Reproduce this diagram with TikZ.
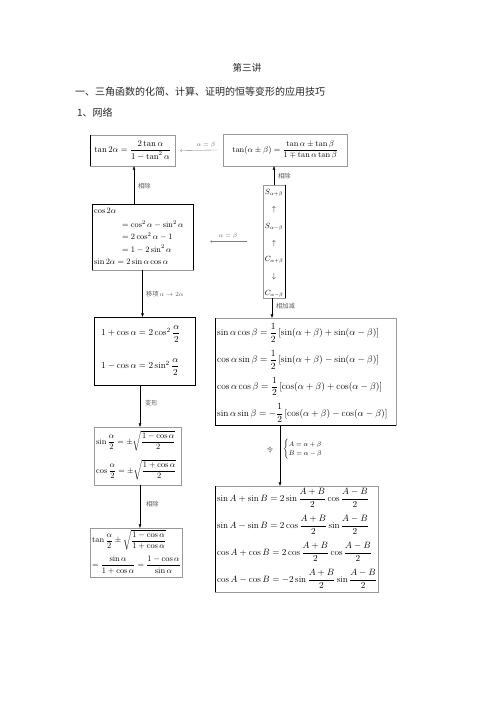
\RequirePackage{fix-cm}
\documentclass[tikz,border=0pt]{standalone}
\usepackage{amsmath}
\usepackage{fontspec}
\newfontfamily\cjk{Noto Sans CJK SC}
\usetikzlibrary{arrows.meta,positioning}
\newdimen\pxu \pxu=1.2pt
\def\gap{27}

\begin{document}
\begin{tikzpicture}[x=1.2pt,y=-1.2pt]
        \tikzstyle{frm}  = [draw=black!40, line width=0.5pt, inner sep=0pt]
        \tikzstyle{edge} = [draw=black, line width=0.6pt]
        \tikzstyle{up}   = [-{Triangle[length=4pt,width=3pt]}, line width=0.5pt]
        \tikzstyle{gr}   = [-{To[length=2pt,width=4pt]}, draw=black!50, line width=0.4pt]
        \tikzstyle{lbl}  = [font=\cjk\fontsize{7.5}{9}\selectfont, text=black!65, inner sep=1pt]
        \tikzstyle{eq}   = [inner sep=0pt, anchor=west, font=\fontsize{10}{12}\selectfont]
        \useasboundingbox (0,0) rectangle (496,702);

                % heading
                \node [font=\cjk\fontsize{11.5}{14}\selectfont, text=black!85](title) at (247,68) {第三讲};
                \node [font=\cjk\fontsize{12}{14}\selectfont, text=black!85, anchor=west, inner sep=0pt](head) at (75,92) {一、三角函数的化简、计算、证明的恒等变形的应用技巧};
                \node [font=\cjk\fontsize{12}{14}\selectfont, text=black!85, anchor=west, inner sep=0pt](sub) at (77,113) {1、网络};

                % boxes
                \node [frm, minimum width=85\pxu, minimum height=31\pxu](tt) at (132.5,150.5)
                        {\fontsize{10.5}{12}\selectfont$\tan2\alpha=\dfrac{2\tan\alpha}{1-\tan^2\alpha}$};
                \node [frm, minimum width=124\pxu, minimum height=32\pxu](tp) at (285,150)
                        {\fontsize{10}{11}\selectfont$\tan(\alpha\pm\beta)=\dfrac{\tan\alpha\pm\tan\beta}{1\mp\tan\alpha\tan\beta}$};
                \node [frm, minimum width=22\pxu, minimum height=113\pxu](sc) at (274,241.5) {};
                \foreach \s [count=\i] in {S_{\alpha+\beta},\uparrow,S_{\alpha-\beta},\uparrow,C_{\alpha+\beta},\downarrow,C_{\alpha-\beta}}
                {
                        \node [inner sep=0pt, font=\fontsize{9}{10}\selectfont](s\i) at (274,{193+16.8*(\i-1)}) {$\s$};
                }

                \node [frm, minimum width=101\pxu, minimum height=66\pxu](cd) at (142.5,237) {};
                \node [eq](c1) at (94,211) {$\cos2\alpha$};
                \node [eq](c2) at (122,224.5) {$=\cos^2\alpha-\sin^2\alpha$};
                \node [eq](c3) at (122,236.5) {$=2\cos^2\alpha-1$};
                \node [eq](c4) at (122,249) {$=1-2\sin^2\alpha$};
                \node [eq](c5) at (94,261.5) {$\sin2\alpha=2\sin\alpha\cos\alpha$};

                \node [frm, minimum width=101\pxu, minimum height=68\pxu](hf) at (144.5,351) {};
                \node [eq, font=\fontsize{11}{13}\selectfont](h1) at (101,334) {$1+\cos\alpha=2\cos^2\dfrac{\alpha}{2}$};
                \node [eq, font=\fontsize{11}{13}\selectfont](h2) at (101,367) {$1-\cos\alpha=2\sin^2\dfrac{\alpha}{2}$};

                \node [frm, minimum width=87\pxu, minimum height=58\pxu](qb) at (137.5,456) {};
                \node [eq](q1) at (96,441) {$\sin\dfrac{\alpha}{2}=\pm\sqrt{\dfrac{1-\cos\alpha}{2}}$};
                \node [eq](q2) at (96,470) {$\cos\dfrac{\alpha}{2}=\pm\sqrt{\dfrac{1+\cos\alpha}{2}}$};

                \node [frm, minimum width=92\pxu, minimum height=49\pxu](rb) at (136,552.5) {};
                \node [eq](r1) at (92,540) {$\tan\dfrac{\alpha}{2}\pm\sqrt{\dfrac{1-\cos\alpha}{1+\cos\alpha}}$};
                \node [eq](r2) at (92,565) {$=\dfrac{\sin\alpha}{1+\cos\alpha}=\dfrac{1-\cos\alpha}{\sin\alpha}$};

                \node [frm, minimum width=181\pxu, minimum height=107\pxu](pb) at (305.5,371.5) {};
                \foreach \f [count=\i] in {
                        {\sin\alpha\cos\beta=\dfrac{1}{2}\left[\sin(\alpha+\beta)+\sin(\alpha-\beta)\right]},
                        {\cos\alpha\sin\beta=\dfrac{1}{2}\left[\sin(\alpha+\beta)-\sin(\alpha-\beta)\right]},
                        {\cos\alpha\cos\beta=\dfrac{1}{2}\left[\cos(\alpha+\beta)+\cos(\alpha-\beta)\right]},
                        {\sin\alpha\sin\beta=-\dfrac{1}{2}\left[\cos(\alpha+\beta)-\cos(\alpha-\beta)\right]}}
                {
                        \node [eq, font=\fontsize{11.3}{13}\selectfont](p\i) at (217,{333+26.7*(\i-1)}) {$\f$};
                }

                \node [frm, minimum width=163\pxu, minimum height=106\pxu](sb) at (296.5,539) {};
                \foreach \f [count=\i] in {
                        {\sin A+\sin B=2\sin\dfrac{A+B}{2}\cos\dfrac{A-B}{2}},
                        {\sin A-\sin B=2\cos\dfrac{A+B}{2}\sin\dfrac{A-B}{2}},
                        {\cos A+\cos B=2\cos\dfrac{A+B}{2}\cos\dfrac{A-B}{2}},
                        {\cos A-\cos B=-2\sin\dfrac{A+B}{2}\sin\dfrac{A-B}{2}}}
                {
                        \node [eq, font=\fontsize{11}{13}\selectfont](m\i) at (217,{498+\gap*(\i-1)}) {$\f$};
                }

                % dark sides
                \draw [edge] (tt.north west) -- (tt.south west);
                \draw [edge] (sc.north east) -- (sc.south east);
                \draw [edge] (cd.south west) -- (cd.north west) -- (cd.north east) -- (cd.south east);
                \draw [edge] (hf.north west) rectangle (hf.south east);
                \draw [edge] (pb.north west) -- (pb.south west) -- (pb.south east);
                \draw [edge] (sb.north west) -- (sb.south west);

                % arrows
                \coordinate (u1) at (134,0);
                \draw [up] (cd.north -| u1) -- (tt.south -| u1);
                \node [lbl, anchor=west](l1) at (137,186) {相除};

                \draw [up] (sc.north) -- (sc.north |- tp.south);
                \node [lbl, anchor=west](l2) at (277,176) {相除};

                \draw [gr] ([xshift=-6\pxu]tp.west) -- ([xshift=5\pxu]tt.east);
                \node [font=\fontsize{7.5}{8}\selectfont, text=black!60, inner sep=0pt](ab1) at (206,145) {$\alpha=\beta$};
                \draw [gr] ([xshift=-16\pxu]sc.west) -- ([xshift=17\pxu]sc.west -| cd.east);
                \node [font=\fontsize{7.5}{8}\selectfont, text=black!60, inner sep=0pt](ab2) at (228,236) {$\alpha=\beta$};

                \draw [up] (cd.south) -- (cd.south |- hf.north);
                \node [lbl, anchor=west](l3) at (145,294) {移项\,$\alpha\to2\alpha$};

                \draw [up] ([xshift=-2\pxu]sc.south) -- ([xshift=-2\pxu]sc.south |- pb.north);
                \node [lbl, anchor=west](l4) at (275,306) {相加减};

                \coordinate (u5) at (140,0);
                \draw [up] (hf.south -| u5) -- (qb.north -| u5);
                \node [lbl, anchor=west](l5) at (144,403) {变形};
                \draw [up] (qb.south -| u5) -- (rb.north -| u5);
                \node [lbl, anchor=west](l6) at (145,504) {相除};

                \coordinate (u7) at (280,0);
                \draw [up] (pb.south -| u7) -- (sb.north -| u7);
                \node [lbl, anchor=east](l7) at (274,450) {令};
                \node [anchor=west, font=\fontsize{8}{9}\selectfont, inner sep=0pt](sys) at (283,449)
                        {$\begin{cases}A=\alpha+\beta\\B=\alpha-\beta\end{cases}$};
\end{tikzpicture}
\end{document}
